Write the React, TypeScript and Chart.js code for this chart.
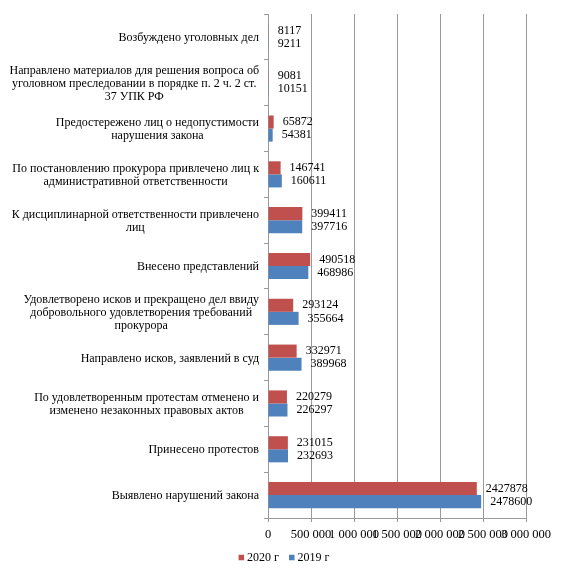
import React, { useEffect, useRef } from 'react';
import Chart from 'chart.js/auto';

// категории (строки подписи так, как они перенесены на исходной диаграмме)
const categories: string[][] = [
  ['Возбуждено уголовных дел'],
  ['Направлено материалов для решения вопроса об', 'уголовном преследовании в порядке п. 2 ч. 2 ст.', '37 УПК РФ'],
  ['Предостережено лиц о недопустимости', 'нарушения закона'],
  ['По постановлению прокурора привлечено лиц к', 'административной ответственности'],
  ['К дисциплинарной ответственности привлечено', 'лиц'],
  ['Внесено представлений'],
  ['Удовлетворено исков и прекращено дел ввиду', 'добровольного удовлетворения требований', 'прокурора'],
  ['Направлено исков, заявлений в суд'],
  ['По удовлетворенным протестам отменено и', 'изменено незаконных правовых актов'],
  ['Принесено протестов'],
  ['Выявлено нарушений закона'],
];

const values2020 = [8117, 9081, 65872, 146741, 399411, 490518, 293124, 332971, 220279, 231015, 2427878];
const values2019 = [9211, 10151, 54381, 160611, 397716, 468986, 355664, 389968, 226297, 232693, 2478600];
const seriesNames = ['2020 г', '2019 г'];
const seriesColors = ['#C0504D', '#4F81BD'];
const xMax = 3000000;
const xStep = 500000;

const FONT = '"Liberation Serif", "Times New Roman", serif';
const LINE_H = 13.3;

const formatTick = (v: number) => String(v).replace(/\B(?=(\d{3})+(?!\d))/g, ' ');

// подписи значений справа от столбцов
const barLabels = {
  id: 'barLabels',
  afterDatasetsDraw(chart: any) {
    const ctx = chart.ctx;
    ctx.save();
    ctx.font = `12px ${FONT}`;
    ctx.fillStyle = '#000';
    ctx.textAlign = 'left';
    ctx.textBaseline = 'middle';
    chart.data.datasets.forEach((ds: any, di: number) => {
      const meta = chart.getDatasetMeta(di);
      meta.data.forEach((bar: any, i: number) => {
        ctx.fillText(String(ds.data[i]), bar.x + 9, bar.y);
      });
    });
    ctx.restore();
  },
};

// многострочные подписи категорий: блок прижат вправо, строки по центру
const categoryLabels = {
  id: 'categoryLabels',
  afterDraw(chart: any) {
    const scale = chart.scales.y;
    const ctx = chart.ctx;
    ctx.save();
    ctx.font = `12px ${FONT}`;
    ctx.fillStyle = '#000';
    ctx.textAlign = 'center';
    ctx.textBaseline = 'middle';
    const right = scale.right - 9;
    categories.forEach((lines, i) => {
      const y = scale.getPixelForTick(i) + 1;
      const w = Math.max(...lines.map((l) => ctx.measureText(l).width));
      const cx = right - w / 2;
      const top = y - ((lines.length - 1) * LINE_H) / 2;
      lines.forEach((l, k) => ctx.fillText(l, cx, top + k * LINE_H));
    });
    ctx.restore();
  },
};

// легенда внизу, как в Excel (немного правее центра)
const bottomLegend = {
  id: 'bottomLegend',
  afterDraw(chart: any) {
    const ctx = chart.ctx;
    ctx.save();
    ctx.font = `12px ${FONT}`;
    ctx.textBaseline = 'middle';
    ctx.textAlign = 'left';
    const box = 5.5;
    const gap = 3;
    const between = 10;
    const widths = seriesNames.map((n) => box + gap + ctx.measureText(n).width);
    const total = widths.reduce((a, b) => a + b, 0) + between * (widths.length - 1);
    let x = 284 - total / 2;
    const y = 558;
    seriesNames.forEach((n, i) => {
      ctx.fillStyle = seriesColors[i];
      ctx.fillRect(x, y - box / 2 - 0.5, box, box);
      ctx.fillStyle = '#000';
      ctx.fillText(n, x + box + gap, y);
      x += widths[i] + between;
    });
    ctx.restore();
  },
};

const App: React.FC = () => {
  const chartRef = useRef<HTMLCanvasElement>(null);
  const chartInstance = useRef<Chart | null>(null);

  useEffect(() => {
    document.body.style.margin = '0';
    if (!chartRef.current) return;
    if (chartInstance.current) chartInstance.current.destroy();

    const ctx = chartRef.current.getContext('2d');
    if (!ctx) return;

    chartInstance.current = new Chart(ctx, {
      type: 'bar',
      data: {
        labels: categories.map((c) => c.join(' ')),
        datasets: seriesNames.map((name, i) => ({
          label: name,
          data: i === 0 ? values2020 : values2019,
          backgroundColor: seriesColors[i],
          categoryPercentage: 0.57,
          barPercentage: 1,
        })),
      },
      plugins: [barLabels, categoryLabels, bottomLegend],
      options: {
        indexAxis: 'y',
        responsive: true,
        maintainAspectRatio: false,
        animation: false,
        layout: {
          padding: { left: 0, right: 38, top: 14, bottom: 38 },
        },
        plugins: {
          legend: { display: false },
          tooltip: { enabled: false },
        },
        scales: {
          x: {
            type: 'linear',
            min: 0,
            max: xMax,
            ticks: {
              stepSize: xStep,
              autoSkip: false,
              maxRotation: 0,
              padding: 5,
              color: '#000',
              font: { family: FONT, size: 12.5 },
              callback: (v: any) => formatTick(Number(v)),
            },
            grid: { color: '#9a9a9a', tickLength: 4 },
            border: { color: '#9a9a9a' },
            afterFit: (s: any) => {
              s.height = 22;
            },
          },
          y: {
            ticks: { display: false },
            grid: { drawOnChartArea: false, tickLength: 4, color: '#9a9a9a' },
            border: { color: '#9a9a9a' },
            afterFit: (s: any) => {
              s.width = 268;
            },
          },
        },
      },
    });

    return () => {
      if (chartInstance.current) {
        chartInstance.current.destroy();
        chartInstance.current = null;
      }
    };
  }, []);

  return (
    <div style={{ width: 564, height: 578, background: '#fff', position: 'relative' }}>
      <canvas ref={chartRef}></canvas>
    </div>
  );
};

export default App;
